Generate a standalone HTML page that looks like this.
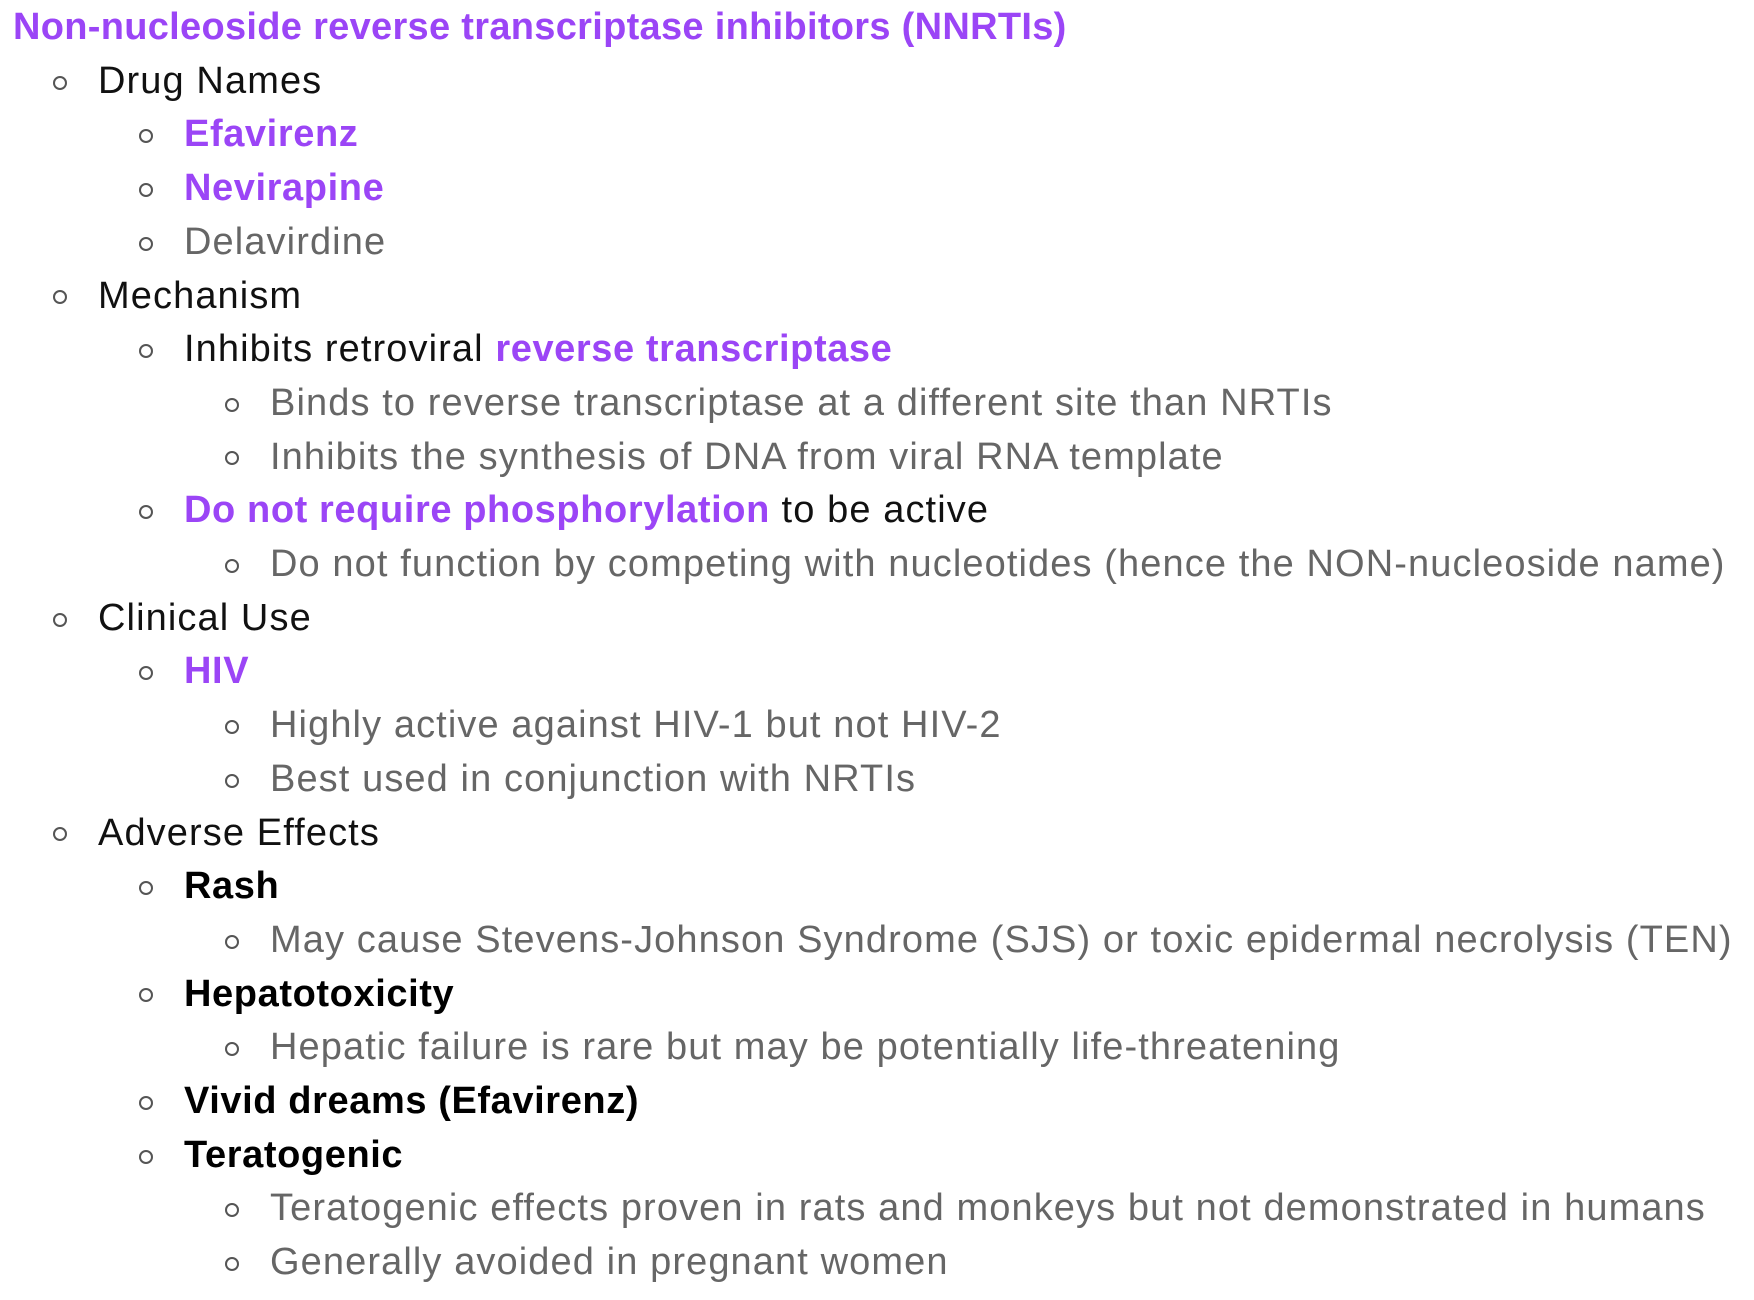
<!DOCTYPE html>
<html><head><meta charset="utf-8">
<style>
body{margin:0;width:1754px;height:1300px;background:#fff;overflow:hidden;font-family:"Liberation Sans",sans-serif;}
.row{position:absolute;left:0;height:54px;line-height:54px;white-space:nowrap;font-size:38px;letter-spacing:1.1px;color:#111;}
.p{color:#9b45f6;font-weight:bold;letter-spacing:0.6px;}
.g{color:#666;}
.b{font-weight:bold;color:#000;letter-spacing:0.6px;}
.bul{position:absolute;width:10px;height:10px;border:2.6px solid #555;border-radius:50%;}
</style></head><body>
<div id="c"></div>
<script>
const items=[
[0,'<span class="p" style="font-size:38px;letter-spacing:0.3px">Non-nucleoside reverse transcriptase inhibitors (NNRTIs)</span>','title'],
[1,'Drug Names','drug-names'],
[2,'<span class="p">Efavirenz</span>','efavirenz'],
[2,'<span class="p">Nevirapine</span>','nevirapine'],
[2,'<span class="g">Delavirdine</span>','delavirdine'],
[1,'Mechanism','mechanism'],
[2,'Inhibits retroviral <span class="p">reverse transcriptase</span>','inhibits-rt'],
[3,'<span class="g">Binds to reverse transcriptase at a different site than NRTIs</span>','binds-site'],
[3,'<span class="g">Inhibits the synthesis of DNA from viral RNA template</span>','inhibits-synthesis'],
[2,'<span class="p">Do not require phosphorylation</span> to be active','no-phosphorylation'],
[3,'<span class="g">Do not function by competing with nucleotides (hence the NON-nucleoside name)</span>','not-competing'],
[1,'Clinical Use','clinical-use'],
[2,'<span class="p">HIV</span>','hiv'],
[3,'<span class="g">Highly active against HIV-1 but not HIV-2</span>','hiv1-active'],
[3,'<span class="g">Best used in conjunction with NRTIs</span>','with-nrtis'],
[1,'Adverse Effects','adverse-effects'],
[2,'<span class="b">Rash</span>','rash'],
[3,'<span class="g">May cause Stevens-Johnson Syndrome (SJS) or toxic epidermal necrolysis (TEN)</span>','sjs-ten'],
[2,'<span class="b">Hepatotoxicity</span>','hepatotoxicity'],
[3,'<span class="g">Hepatic failure is rare but may be potentially life-threatening</span>','hepatic-failure'],
[2,'<span class="b">Vivid dreams (Efavirenz)</span>','vivid-dreams'],
[2,'<span class="b">Teratogenic</span>','teratogenic'],
[3,'<span class="g">Teratogenic effects proven in rats and monkeys but not demonstrated in humans</span>','teratogenic-effects'],
[3,'<span class="g">Generally avoided in pregnant women</span>','avoid-pregnancy']
];
const c=document.getElementById('c');
const textX=[13,98,184,270], bulX=[0,61,147,233], rowH=53.7;
items.forEach((it,i)=>{
  const top=i*rowH;
  const d=document.createElement('div');
  d.className='row';
  d.style.top=top+'px';
  d.style.left=textX[it[0]]+'px';
  d.innerHTML=it[1];
  
  
  c.appendChild(d);
  if(it[0]>0){
    const b=document.createElement('div');
    b.className='bul';
    b.style.left=(bulX[it[0]]-7.6)+'px';
    b.style.top=(top+rowH/2-5)+'px';
    
    
    c.appendChild(b);
  }
});
</script>
</body></html>
